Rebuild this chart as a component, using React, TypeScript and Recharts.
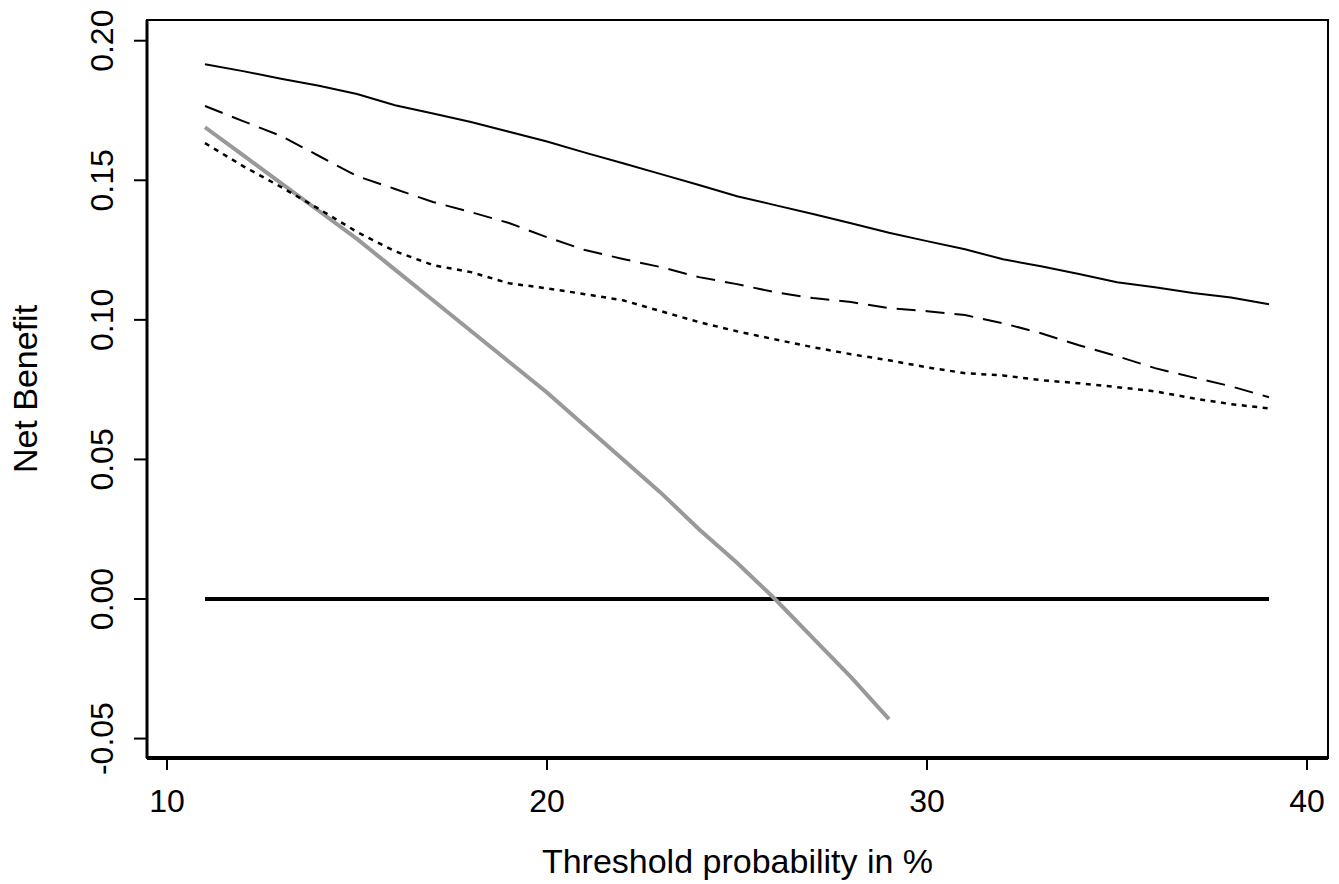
import { Label, Line, LineChart, ReferenceArea, XAxis, YAxis } from "recharts";

// threshold probability (%)
const thresholds = [11, 12, 13, 14, 15, 16, 17, 18, 19, 20, 21, 22, 23, 24, 25, 26, 27, 28, 29, 30, 31, 32, 33, 34, 35, 36, 37, 38, 39];

// net benefit
const modelSolid = [0.1916, 0.1891, 0.1864, 0.1839, 0.1809, 0.1769, 0.1739, 0.1709, 0.1674, 0.1639, 0.1599, 0.1561, 0.1522, 0.1483, 0.1443, 0.1411, 0.1379, 0.1346, 0.1312, 0.1282, 0.1253, 0.1217, 0.1192, 0.1164, 0.1135, 0.1117, 0.1096, 0.108, 0.1056];
const modelDashed = [0.1766, 0.1712, 0.1659, 0.1587, 0.1515, 0.1469, 0.1422, 0.1386, 0.1347, 0.1296, 0.125, 0.1218, 0.1189, 0.1153, 0.1128, 0.1099, 0.1078, 0.1064, 0.1042, 0.1031, 0.1017, 0.0988, 0.0952, 0.0909, 0.087, 0.0827, 0.0794, 0.0762, 0.0723];
const modelDotted = [0.1633, 0.1551, 0.1476, 0.1397, 0.1315, 0.1246, 0.1196, 0.1171, 0.1131, 0.1113, 0.1092, 0.107, 0.1031, 0.0992, 0.0959, 0.093, 0.0902, 0.0877, 0.0855, 0.083, 0.0809, 0.0801, 0.0784, 0.0773, 0.0759, 0.0744, 0.0719, 0.0698, 0.0683];
// treat all stops at 29%
const treatAll = [0.169, 0.159, 0.149, 0.139, 0.129, 0.118, 0.107, 0.096, 0.085, 0.074, 0.062, 0.05, 0.038, 0.025, 0.013, 0.0, -0.014, -0.028, -0.043];
const treatNone = [0, 0, 0, 0, 0, 0, 0, 0, 0, 0, 0, 0, 0, 0, 0, 0, 0, 0, 0, 0, 0, 0, 0, 0, 0, 0, 0, 0, 0];

const xTicks = [10, 20, 30, 40];
const yTicks = [-0.05, 0, 0.05, 0.1, 0.15, 0.2];

const X_MIN = 9.4737;
const X_MAX = 40.553;
const Y_MIN = -0.05696;
const Y_MAX = 0.20742;

const FONT = "'Liberation Sans', Arial, sans-serif";

const data = thresholds.map((t, i) => ({
  t,
  solid: modelSolid[i],
  dashed: modelDashed[i],
  dotted: modelDotted[i],
  all: i < treatAll.length ? treatAll[i] : null,
  none: treatNone[i],
}));

function XTick({ x, y, payload }: any) {
  return (
    <text x={x} y={y + 40} textAnchor="middle" fontSize={32} fontFamily={FONT} fill="#000">
      {payload.value}
    </text>
  );
}

function YTick({ x, y, payload }: any) {
  const bx = x - 19;
  return (
    <text x={bx} y={y} transform={`rotate(-90 ${bx} ${y})`} textAnchor="middle" fontSize={32} fontFamily={FONT} fill="#000">
      {payload.value.toFixed(2)}
    </text>
  );
}

export default function App() {
  return (
    <div style={{ position: "absolute", left: 0, top: 0, background: "#fff" }}>
      <LineChart width={1339} height={884} data={data} margin={{ top: 20, right: 11, bottom: 0, left: 0 }}>
        <XAxis
          dataKey="t"
          type="number"
          domain={[X_MIN, X_MAX]}
          ticks={xTicks}
          allowDataOverflow
          height={126}
          tick={<XTick />}
          tickSize={12}
          axisLine={{ stroke: "#000", strokeWidth: 4 }}
          tickLine={{ stroke: "#000", strokeWidth: 2 }}
        >
          <Label
            content={() => (
              <text x={737.5} y={873} textAnchor="middle" fontSize={34} fontFamily={FONT} fill="#000">
                Threshold probability in %
              </text>
            )}
          />
        </XAxis>
        <YAxis
          type="number"
          domain={[Y_MIN, Y_MAX]}
          ticks={yTicks}
          allowDataOverflow
          width={147}
          tick={<YTick />}
          tickSize={13}
          axisLine={{ stroke: "#000", strokeWidth: 3 }}
          tickLine={{ stroke: "#000", strokeWidth: 2 }}
        >
          <Label
            content={() => (
              <text x={37} y={389} transform="rotate(-90 37 389)" textAnchor="middle" fontSize={34} fontFamily={FONT} fill="#000">
                Net Benefit
              </text>
            )}
          />
        </YAxis>
        <ReferenceArea x1={X_MIN} x2={X_MAX} y1={Y_MIN} y2={Y_MAX} fill="none" stroke="#000" strokeWidth={2} ifOverflow="visible" />
        <Line dataKey="none" stroke="#000" strokeWidth={4} dot={false} isAnimationActive={false} />
        <Line dataKey="all" stroke="#999999" strokeWidth={4} dot={false} isAnimationActive={false} />
        <Line dataKey="solid" stroke="#000" strokeWidth={2} dot={false} isAnimationActive={false} />
        <Line dataKey="dashed" stroke="#000" strokeWidth={2} strokeDasharray="19 10" dot={false} isAnimationActive={false} />
        <Line dataKey="dotted" stroke="#000" strokeWidth={2.5} strokeDasharray="5 5.5" dot={false} isAnimationActive={false} />
      </LineChart>
    </div>
  );
}
